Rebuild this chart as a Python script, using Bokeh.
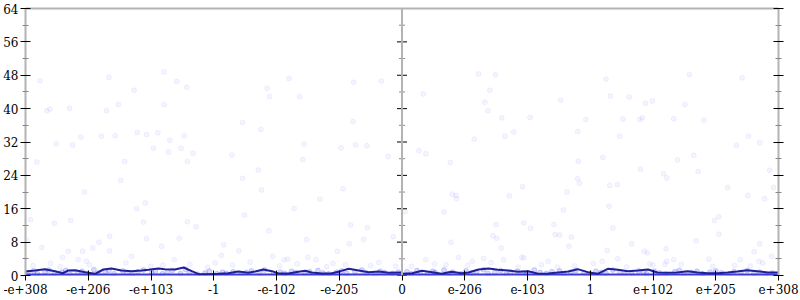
from bokeh.plotting import figure
from bokeh.models import Range1d, FixedTicker, LinearAxis, Span
from bokeh.embed import file_html
from bokeh.resources import INLINE
import numpy as np

# ---------------- data ----------------
y_ticks = [0, 8, 16, 24, 32, 40, 48, 56, 64]
y_minor = [4, 12, 20, 28, 36, 44, 52, 60]
x_labels_neg = ["-e+308", "-e+206", "-e+103", "-1", "-e-102", "-e-205"]
x_labels_pos = ["0", "e-206", "e-103", "1", "e+102", "e+205", "e+308"]
panel_extent = [0, 6]          # ordinal extent of each half (negatives / positives)

# left half (negative inputs): scattered per-sample errors (bits)
neg_x = [0.235, 1.33, 2.21, 2.41, 2.57, 1.73, 0.34, 0.39, 0.70, 1.29, 1.48, 2.21, 0.88, 1.21, 1.43,
         1.78, 1.93, 2.11, 2.30, 2.53, 3.46, 3.75, 3.85, 3.89, 4.20, 4.37, 5.23, 5.67, 5.22,
         0.18, 1.58, 1.52, 0.94, 2.58, 2.67, 2.28, 2.48, 2.04, 0.75, 0.49,
         3.29, 4.44, 4.42, 5.03, 5.26, 5.44, 5.78, 3.71, 3.46, 3.76, 5.06, 4.69, 4.28, 3.49, 1.77,
         1.91, 0.08, 0.72, 0.46, 1.88, 2.58, 2.72, 3.88, 5.18, 5.45, 5.86, 5.39, 4.48, 5.16, 1.34,
         1.17, 1.07, 1.93, 2.45, 2.17, 3.16, 3.40, 0.26, 0.68, 0.91, 1.34, 0.59, 0.84, 1.69, 2.37,
         3.12, 4.12, 4.50, 4.63, 4.97, 5.63, 3.94, 4.18, 0.02,
         0.12, 0.40, 0.55, 1.02, 1.60, 2.00, 2.62, 2.90, 3.30, 3.58, 4.05, 4.33, 4.80, 5.10, 5.50,
         5.90, 0.97, 2.19, 3.02, 4.90]
neg_y = [46.7, 47.5, 48.8, 46.5, 45.1, 44.4, 39.5, 39.9, 40.1, 39.5, 41.0, 41.0, 33.2, 33.4, 33.5,
         34.3, 33.8, 34.2, 32.4, 33.5, 36.7, 35.0, 44.9, 42.9, 47.2, 42.9, 46.3, 46.6, 36.9,
         27.2, 27.3, 22.8, 20.0, 27.3, 29.3, 29.6, 30.5, 30.5, 31.3, 31.6,
         28.9, 31.5, 27.8, 30.6, 31.3, 31.1, 28.5, 25.3, 23.3, 20.5, 20.8, 18.3, 16.1, 14.5, 16.0,
         17.4, 13.4, 13.2, 12.5, 12.8, 12.9, 11.7, 10.7, 12.1, 11.5, 9.3, 8.6, 8.6, 7.6, 9.4,
         8.0, 6.6, 8.8, 8.9, 7.0, 7.4, 5.9, 6.7, 5.8, 5.8, 5.9, 4.3, 3.8, 4.6, 3.8,
         4.8, 3.8, 4.4, 3.8, 5.8, 3.1, 4.6, 3.9, 8.4,
         2.4, 2.9, 2.1, 2.6, 3.0, 2.2, 2.7, 2.0, 2.5, 3.2, 2.3, 2.8, 2.1, 2.6, 2.4,
         2.2, 3.4, 2.5, 3.0, 2.9]
neg_low_x = [0.04, 0.13, 0.19, 0.31, 0.37, 0.46, 0.58, 0.64, 0.71, 0.83, 0.9, 0.97, 1.09, 1.16, 1.27,
             1.33, 1.41, 1.55, 1.62, 1.7, 1.79, 1.88, 2.01, 2.07, 2.18, 2.26, 2.34, 2.47, 2.55, 2.61,
             2.74, 2.86, 2.93, 3.05, 3.14, 3.2, 3.31, 3.44, 3.52, 3.6, 3.73, 3.81, 3.95, 4.06, 4.13,
             4.24, 4.31, 4.45, 4.53, 4.66, 4.74, 4.83, 4.96, 5.04, 5.12, 5.25, 5.36, 5.43, 5.57, 5.65,
             5.72, 5.85, 5.94]
neg_low_y = [0.6, 1.1, 0.4, 0.9, 1.3, 0.5, 0.8, 1.2, 0.3, 0.7, 1.0, 0.5, 1.4, 0.6, 0.9,
             1.2, 0.4, 1.1, 0.7, 0.3, 0.9, 1.3, 0.6, 1.0, 0.4, 0.8, 1.2, 0.5, 1.5, 0.7,
             0.3, 0.6, 1.0, 0.4, 0.8, 0.5, 0.9, 0.3, 0.7, 1.1, 0.6, 1.3, 0.4, 0.8, 0.5,
             1.0, 0.7, 0.3, 0.9, 1.2, 0.6, 0.4, 0.8, 1.1, 0.5, 0.9, 1.3, 0.6, 0.4, 1.0,
             0.7, 0.5, 0.8]
neg_avg_x = [0, 0.15, 0.31, 0.47, 0.60, 0.68, 0.79, 0.95, 1.11, 1.24, 1.37, 1.53, 1.69, 1.85, 1.96,
             2.12, 2.22, 2.38, 2.52, 2.65, 2.76, 2.92, 3.07, 3.23, 3.39, 3.55, 3.66, 3.79, 3.93, 4.03,
             4.19, 4.35, 4.46, 4.56, 4.72, 4.88, 5.02, 5.15, 5.31, 5.47, 5.63, 5.79, 6.0]
neg_avg_y = [0.96, 1.20, 1.52, 1.04, 0.56, 1.20, 1.28, 0.80, 0.40, 1.44, 1.68, 1.20, 1.04, 1.20, 1.36,
             1.68, 1.52, 1.44, 1.92, 1.04, 0.32, 0.32, 0.40, 0.56, 0.96, 0.64, 0.96, 1.44, 1.04, 0.48,
             0.48, 0.88, 1.12, 0.72, 0.48, 0.56, 1.04, 1.60, 1.20, 0.80, 0.96, 0.64, 0.72]

# right half (positive inputs)
pos_x = [0.34, 1.22, 1.49, 1.40, 1.32, 1.37, 1.59, 2.04, 2.53, 3.25, 3.32, 3.62, 3.88, 3.99, 4.51,
         4.58, 5.42, 2.93, 3.52, 3.79, 3.83, 4.33, 4.81, 1.15, 1.64, 1.78, 2.80, 3.47, 5.52,
         0.27, 0.38, 0.77, 3.20, 2.81, 3.80, 4.17, 4.22, 4.39, 4.65, 4.72, 5.33, 5.70, 5.86, 5.92,
         5.78, 5.19, 5.51, 0.80, 0.86, 0.87, 0.67, 0.05, 1.92, 1.71, 2.63, 2.80, 2.83, 3.31, 3.43,
         3.30, 2.57, 3.36, 1.94, 2.05, 2.42, 2.44, 2.51, 2.70, 1.50, 1.45, 1.51, 1.58, 0.78, 2.66,
         3.66, 4.21, 3.86, 3.91, 4.98, 5.05, 5.05, 4.69, 5.61, 5.70, 5.69, 5.39, 5.89, 4.89, 4.33,
         4.22, 4.19, 3.27, 3.44, 3.19, 2.33, 1.91, 1.94, 1.30, 1.62, 1.12, 0.90, 0.38,
         0.15, 0.52, 1.05, 1.42, 1.85, 2.22, 2.75, 3.05, 3.58, 4.00, 4.45, 4.95, 5.30, 5.75, 0.70,
         2.48, 3.95, 5.55]
pos_y = [43.5, 48.3, 48.1, 44.4, 41.5, 39.5, 37.8, 37.9, 42.0, 47.1, 43.0, 42.8, 41.3, 41.8, 41.0,
         48.2, 47.4, 37.4, 37.5, 37.4, 37.8, 37.6, 37.2, 32.7, 33.4, 34.4, 34.5, 33.4, 33.4,
         29.9, 29.2, 27.1, 28.3, 27.4, 25.5, 24.4, 23.4, 27.7, 28.8, 24.9, 31.2, 31.8, 25.2, 21.1,
         18.4, 21.1, 19.2, 19.5, 19.2, 18.4, 15.2, 15.3, 21.3, 19.1, 20.0, 23.2, 22.1, 21.6, 21.8,
         16.6, 15.7, 11.4, 12.6, 11.3, 12.2, 9.8, 9.7, 9.2, 12.2, 9.5, 8.9, 6.6, 8.0, 7.0,
         7.6, 6.4, 5.8, 5.4, 13.2, 14.1, 9.9, 8.3, 5.7, 7.6, 3.4, 3.8, 4.6, 3.9, 3.8,
         3.4, 2.7, 6.0, 4.0, 3.4, 3.4, 4.4, 4.2, 4.1, 3.8, 3.4, 4.3, 3.8,
         2.2, 2.8, 2.4, 3.1, 2.0, 2.6, 2.3, 2.9, 2.1, 2.5, 2.7, 2.2, 2.4, 3.0, 2.6,
         2.0, 2.8, 2.3]
pos_low_x = [0.08, 0.15, 0.24, 0.29, 0.4, 0.49, 0.53, 0.67, 0.75, 0.81, 0.94, 1.02, 1.11, 1.19, 1.3,
             1.37, 1.48, 1.57, 1.66, 1.73, 1.84, 1.93, 1.99, 2.11, 2.2, 2.3, 2.39, 2.51, 2.58, 2.69,
             2.77, 2.9, 2.98, 3.09, 3.17, 3.25, 3.36, 3.47, 3.55, 3.66, 3.77, 3.85, 3.9, 4.02, 4.1,
             4.2, 4.35, 4.42, 4.5, 4.61, 4.7, 4.79, 4.91, 5.0, 5.09, 5.21, 5.29, 5.4, 5.5, 5.61,
             5.7, 5.8, 5.9]
pos_low_y = [0.9, 0.4, 1.2, 0.6, 0.3, 1.0, 0.7, 1.3, 0.5, 0.8, 0.4, 1.1, 0.6, 0.9, 1.4,
             0.5, 0.7, 1.2, 0.3, 0.8, 1.0, 0.6, 0.4, 1.3, 0.7, 0.5, 0.9, 1.1, 0.3, 0.8,
             1.2, 0.6, 0.4, 1.0, 0.7, 0.5, 1.3, 0.9, 0.3, 0.6, 1.1, 0.8, 0.4, 1.0, 0.6,
             0.3, 0.9, 1.2, 0.5, 0.7, 1.0, 0.4, 0.8, 1.1, 0.6, 0.3, 0.9, 0.7, 1.2, 0.5,
             0.8, 0.4, 0.6]
pos_avg_x = [0, 0.16, 0.32, 0.48, 0.63, 0.79, 0.95, 1.06, 1.22, 1.38, 1.53, 1.69, 1.85, 2.01, 2.17,
             2.33, 2.49, 2.65, 2.80, 2.96, 3.12, 3.28, 3.44, 3.60, 3.76, 3.92, 4.07, 4.23, 4.39, 4.55,
             4.71, 4.87, 5.03, 5.19, 5.34, 5.50, 5.66, 5.82, 6.0]
pos_avg_y = [0.40, 0.56, 1.12, 0.80, 0.40, 0.88, 0.56, 0.72, 1.44, 1.68, 1.36, 1.20, 0.88, 1.04, 0.40,
             0.48, 0.72, 0.96, 1.52, 0.80, 0.40, 1.60, 1.36, 1.04, 1.20, 1.44, 0.72, 0.64, 0.72, 1.04,
             0.72, 0.56, 0.56, 0.72, 0.96, 1.28, 1.04, 0.72, 0.72]

# ---------------- figure ----------------
off = panel_extent[1]  # right half placed after left half
FONT = "DejaVu Serif"
GREY = "#b3b3b3"

p = figure(width=800, height=300, output_backend="svg", toolbar_location=None,
           x_range=Range1d(0, 2 * off), y_range=Range1d(y_ticks[0], y_ticks[-1]),
           min_border_left=24, min_border_right=22, min_border_top=8, min_border_bottom=25)
p.grid.visible = False
p.outline_line_color = None
p.background_fill_color = "white"
p.border_fill_color = "white"

pt = dict(marker="circle", size=5, fill_color="blue", fill_alpha=0.045,
          line_color="blue", line_alpha=0.05, line_width=1)
p.scatter(neg_x, neg_y, **pt)
p.scatter(np.array(pos_x) + off, pos_y, **pt)
low = dict(marker="circle", size=5, fill_color="blue", fill_alpha=0.15,
           line_color="blue", line_alpha=0.15, line_width=1)
p.scatter(neg_low_x, neg_low_y, **low)
p.scatter(np.array(pos_low_x) + off, pos_low_y, **low)

# samples with zero error
p.line([panel_extent[0], 2 * off], [0, 0], line_color="#3c3cd2", line_width=4)

p.line(neg_avg_x, neg_avg_y, line_color="#1f1f96", line_width=2)
p.line(np.array(pos_avg_x) + off, pos_avg_y, line_color="#1f1f96", line_width=2)

# ticker setup
yt = FixedTicker(ticks=y_ticks, minor_ticks=y_minor)
xt = FixedTicker(ticks=list(range(0, 2 * off + 1)), minor_ticks=[])
labels = x_labels_neg + x_labels_pos
overrides = {i: lab for i, lab in enumerate(labels)}

def style_axis(ax):
    ax.axis_line_color = GREY
    ax.axis_line_width = 2
    ax.major_tick_line_color = "black"
    ax.major_tick_line_width = 1
    ax.major_tick_in = 5
    ax.major_tick_out = 5
    ax.minor_tick_line_color = "#888888"
    ax.minor_tick_in = 3
    ax.minor_tick_out = 3
    ax.major_label_text_font = FONT
    ax.major_label_text_font_size = "12px"
    ax.major_label_text_color = "black"

ya = p.yaxis[0]
ya.ticker = yt
style_axis(ya)
ya.major_label_standoff = 2

xa = p.xaxis[0]
xa.ticker = xt
style_axis(xa)
xa.axis_line_color = None
xa.major_label_overrides = overrides
xa.major_label_standoff = 3

ra = LinearAxis(ticker=yt)
style_axis(ra)
ra.major_label_overrides = {t: "" for t in y_ticks}
ra.major_label_standoff = 0
p.add_layout(ra, "right")

ta = LinearAxis(ticker=FixedTicker(ticks=[]))
ta.axis_line_color = GREY
ta.axis_line_width = 2
ta.major_tick_line_color = None
ta.minor_tick_line_color = None
ta.major_label_standoff = 0
p.add_layout(ta, "above")

# dividing axis between the two halves
p.add_layout(Span(location=off, dimension="height", line_color=GREY, line_width=2))
p.scatter([off] * len(y_ticks), y_ticks, marker="dash", size=10, line_color="black", line_width=1)
p.scatter([off] * len(y_minor), y_minor, marker="dash", size=6, line_color="#888888", line_width=1)

open("out.html", "w").write(file_html(p, INLINE))
